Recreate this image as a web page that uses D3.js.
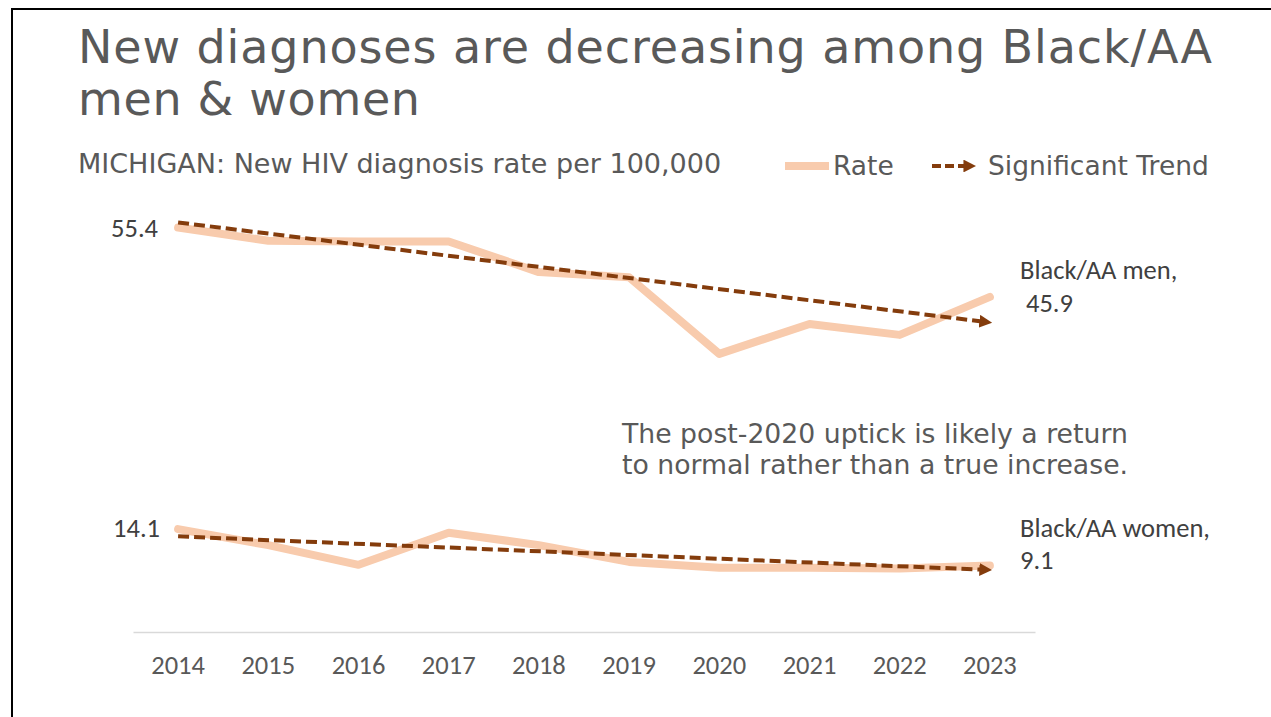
<!DOCTYPE html>
<html>
<head>
<meta charset="utf-8">
<script src="https://cdn.jsdelivr.net/npm/d3@7"></script>
<style>
  html, body { margin: 0; padding: 0; background: #fff; }
  svg { display: block; }
</style>
</head>
<body>
<svg id="chart" width="1271" height="717"></svg>
<script>
// Michigan new HIV diagnosis rate per 100,000, Black/AA men and women
const years = ["2014","2015","2016","2017","2018","2019","2020","2021","2022","2023"];
const menRate   = [55.4, 53.6, 53.5, 53.5, 49.3, 48.6, 38.1, 42.2, 40.7, 45.9];
const womenRate = [14.1, 11.9, 9.2, 13.6, 11.9, 9.6, 8.8, 8.8, 8.7, 9.1];
// significant trend lines (fitted values at first and last year)
const trendYears = ["2014", "2023"];
const menTrend   = [56.1, 42.4];
const womenTrend = [13.1, 8.5];

const RATE_COLOR = "#F8CBAD";
const TREND_COLOR = "#843C0C";
const TEXT_COLOR = "#595959";
const WIDE_FONT = "Verdana, 'DejaVu Sans', sans-serif";
const LABEL_FONT = "Calibri, 'Open Sans', 'Noto Sans', sans-serif";

const svg = d3.select("#chart");

// frame
svg.append("path")
  .attr("d", "M12,717 L12,9 L1271,9")
  .attr("fill", "none").attr("stroke", "#000").attr("stroke-width", 2);

// title
const title = svg.append("text")
  .attr("font-family", WIDE_FONT)
  .attr("font-size", 46).attr("fill", TEXT_COLOR);
title.append("tspan").attr("x", 78).attr("y", 63)
  .attr("textLength", 1134).attr("lengthAdjust", "spacing")
  .text("New diagnoses are decreasing among Black/AA");
title.append("tspan").attr("x", 78).attr("y", 115)
  .attr("textLength", 342).attr("lengthAdjust", "spacing")
  .text("men & women");

svg.append("text")
  .attr("x", 78).attr("y", 173)
  .attr("font-family", WIDE_FONT)
  .attr("font-size", 27).attr("fill", TEXT_COLOR)
  .text("MICHIGAN: New HIV diagnosis rate per 100,000");

// scales
const x = d3.scaleBand().domain(years).range([133, 1035]).paddingInner(0).paddingOuter(0);
const xc = d => x(d) + x.bandwidth() / 2;
const y = d3.scaleLinear().domain([0, 60]).range([632, 194]);

// arrow marker for trend lines
const defs = svg.append("defs");
defs.append("marker")
  .attr("id", "arrow")
  .attr("viewBox", "0 0 10 10")
  .attr("refX", 2).attr("refY", 5)
  .attr("markerWidth", 3.2).attr("markerHeight", 3.2)
  .attr("markerUnits", "strokeWidth")
  .attr("orient", "auto")
  .append("path").attr("d", "M0,0 L10,5 L0,10 Z").attr("fill", TREND_COLOR);

// x axis
const axis = svg.append("g")
  .attr("transform", `translate(0,${y(0)})`)
  .call(d3.axisBottom(x).tickSize(0).tickPadding(23));
axis.select(".domain").attr("stroke", "#D9D9D9").attr("stroke-width", 1.5);
axis.selectAll("text")
  .attr("font-family", LABEL_FONT)
  .attr("font-size", 26.5).attr("fill", TEXT_COLOR);

const rateLine = d3.line().x((d, i) => xc(years[i])).y(d => y(d));

[menRate, womenRate].forEach(series => {
  svg.append("path")
    .datum(series)
    .attr("d", rateLine)
    .attr("fill", "none")
    .attr("stroke", RATE_COLOR)
    .attr("stroke-width", 8)
    .attr("stroke-linejoin", "round")
    .attr("stroke-linecap", "round");
});

[menTrend, womenTrend].forEach(series => {
  const pts = series.map((v, i) => [xc(trendYears[i]), y(v)]);
  // shorten end slightly so the arrow tip lands on the last year
  const dx = pts[1][0] - pts[0][0], dy = pts[1][1] - pts[0][1];
  const len = Math.hypot(dx, dy);
  const cut = 8;
  const end = [pts[1][0] - dx / len * cut, pts[1][1] - dy / len * cut];
  svg.append("path")
    .attr("d", d3.line()([pts[0], end]))
    .attr("fill", "none")
    .attr("stroke", TREND_COLOR)
    .attr("stroke-width", 4)
    .attr("stroke-dasharray", "11,5")
    .attr("marker-end", "url(#arrow)");
});

// data labels
function label(xs, ys, lines, anchor) {
  const t = svg.append("text")
    .attr("font-family", LABEL_FONT).attr("font-size", 26.5)
    .attr("fill", "#404040").attr("text-anchor", anchor || "start");
  lines.forEach((s, i) => {
    t.append("tspan").attr("x", xs[i]).attr("y", ys[i]).text(s);
  });
}
label([158], [y(menRate[0]) + 9], [String(menRate[0])], "end");
label([160], [y(womenRate[0]) + 8], [String(womenRate[0])], "end");
label([1020, 1026], [279, 312], ["Black/AA men,", String(menRate[9])]);
label([1020, 1020], [537, 569], ["Black/AA women,", String(womenRate[9])]);

// note
const note = svg.append("text")
  .attr("font-family", WIDE_FONT)
  .attr("font-size", 26.7).attr("fill", TEXT_COLOR);
note.append("tspan").attr("x", 622).attr("y", 443).text("The post-2020 uptick is likely a return");
note.append("tspan").attr("x", 622).attr("y", 474).text("to normal rather than a true increase.");

// legend
const lg = svg.append("g");
lg.append("line").attr("x1", 785).attr("x2", 829).attr("y1", 166).attr("y2", 166)
  .attr("stroke", RATE_COLOR).attr("stroke-width", 8);
lg.append("text").attr("x", 833).attr("y", 175)
  .attr("font-family", WIDE_FONT)
  .attr("font-size", 26.5).attr("fill", TEXT_COLOR).text("Rate");
lg.append("line").attr("x1", 932).attr("x2", 966).attr("y1", 166).attr("y2", 166)
  .attr("stroke", TREND_COLOR).attr("stroke-width", 4)
  .attr("stroke-dasharray", "9,4")
  .attr("marker-end", "url(#arrow)");
lg.append("text").attr("x", 988).attr("y", 175)
  .attr("font-family", WIDE_FONT)
  .attr("font-size", 26.5).attr("fill", TEXT_COLOR).text("Significant Trend");
</script>
</body>
</html>
